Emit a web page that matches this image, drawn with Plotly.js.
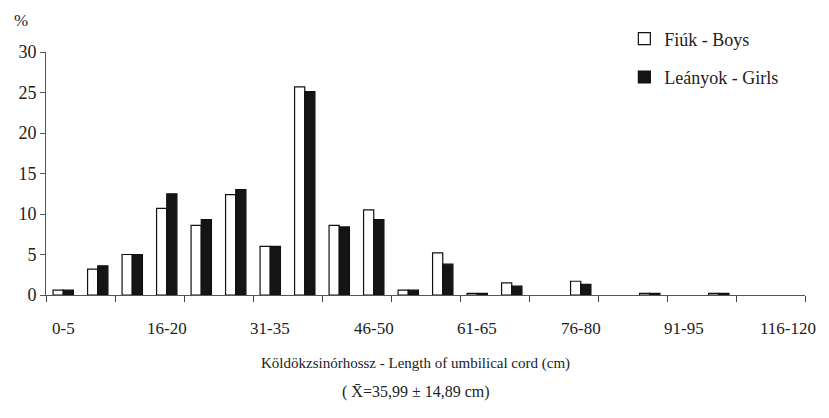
<!DOCTYPE html>
<html>
<head>
<meta charset="utf-8">
<script src="https://cdn.plot.ly/plotly-3.0.1.min.js"></script>
<style>html,body{margin:0;padding:0;background:#fff;}#chart{width:829px;height:418px;}</style>
</head>
<body>
<div id="chart"></div>
<script>
const categories = ["0-5","6-10","11-15","16-20","21-25","26-30","31-35","36-40","41-45","46-50","51-55","56-60","61-65","66-70","71-75","76-80","81-85","86-90","91-95","96-100","101-115","116-120"];
const boys  = [0.6,3.2,5.0,10.7,8.6,12.4,6.0,25.7,8.6,10.5,0.6,5.2,0.2,1.5,0,1.7,0,0.2,0,0.2,0,0];
const girls = [0.6,3.6,5.0,12.5,9.3,13.0,6.0,25.1,8.4,9.3,0.6,3.8,0.2,1.1,0,1.3,0,0.2,0,0.2,0,0];
const labelEvery = 3;   // category labels every 3 categories
const tickEvery = 2;    // tick marks every 2 category boundaries

const idx = categories.map((c,i)=>i);
const labelVals = idx.filter(i => i % labelEvery === 0);
const boundaryVals = [];
for (let b = 0; b <= categories.length; b += tickEvery) boundaryVals.push(b - 0.5);

const FAM = "Liberation Serif";
const TXT = "#222";
const lineW = v => v.map(d => d > 0 ? 1.2 : 0);

const traces = [
  {type:"bar", name:"Fiúk - Boys", x: idx, y: boys, legendgroup:"a",
   marker:{color:"#ffffff", line:{color:"#111", width:lineW(boys)}}, hoverinfo:"skip"},
  {type:"bar", name:"Leányok - Girls", x: idx, y: girls, legendgroup:"b",
   marker:{color:"#151515", line:{color:"#111", width:lineW(girls)}}, hoverinfo:"skip"}
];

const catLabels = labelVals.map(i => ({
  text: categories[i], xref:"x", yref:"paper", x:i, y:-0.136,
  xanchor:"center", yanchor:"middle", showarrow:false,
  font:{family:FAM, size:17, color:TXT}
}));

const layout = {
  width:829, height:418,
  margin:{l:46, r:24, t:52, b:123},
  paper_bgcolor:"#fff", plot_bgcolor:"#fff",
  font:{family:FAM, size:16, color:TXT},
  barmode:"group", bargap:0.41, bargroupgap:0,
  showlegend:true,
  legend:{x:0.762, y:1.13, xanchor:"left", yanchor:"top", bgcolor:"rgba(0,0,0,0)",
          font:{family:FAM, size:18, color:TXT}, tracegroupgap:12, traceorder:"grouped"},
  xaxis:{range:[-0.5, categories.length-0.5], tickmode:"array", tickvals:boundaryVals,
         ticktext:boundaryVals.map(() => ""), ticks:"outside", ticklen:6, tickwidth:1, tickcolor:"#444",
         showline:true, linecolor:"#555", linewidth:1, showgrid:false, zeroline:false},
  yaxis:{range:[0,30], tickvals:[0,5,10,15,20,25,30], ticks:"outside", ticklen:5, tickcolor:"#555",
         showline:true, linecolor:"#555", linewidth:1, showgrid:false, zeroline:false,
         tickfont:{family:FAM, size:18, color:TXT}},
  annotations: catLabels.concat([
    {text:"%", xref:"paper", yref:"paper", x:-0.045, y:1.13, xanchor:"left", yanchor:"middle",
     showarrow:false, font:{family:FAM, size:17, color:TXT}},
    {text:"Köldökzsinórhossz - Length of umbilical cord (cm)", xref:"paper", yref:"paper",
     x:0.487, y:-0.28, xanchor:"center", yanchor:"middle", showarrow:false,
     font:{family:FAM, size:15, color:TXT}},
    {text:"( X\u0304=35,99 ± 14,89 cm)", xref:"paper", yref:"paper",
     x:0.487, y:-0.40, xanchor:"center", yanchor:"middle", showarrow:false,
     font:{family:FAM, size:16, color:TXT}}
  ])
};

Plotly.newPlot("chart", traces, layout, {displayModeBar:false, staticPlot:true});
</script>
</body>
</html>
